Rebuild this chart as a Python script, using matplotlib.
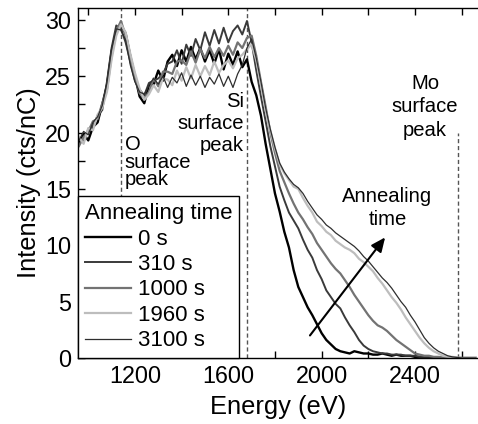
import matplotlib
matplotlib.use("Agg")
import matplotlib.pyplot as plt
from matplotlib.ticker import MultipleLocator

plt.rcParams['font.family'] = ['Liberation Sans', 'DejaVu Sans']

energy = list(range(960, 2661, 20))

int_0s = [19.0, 19.9, 19.3, 20.5, 20.9, 22.5, 24.2, 27.2, 29.0, 29.5, 28.8, 26.8, 25.0, 23.2, 22.6, 24.2,
          24.3, 25.5, 24.6, 26.3, 26.9, 25.9, 27.3, 26.3, 27.6, 26.5, 27.5, 26.3, 27.3, 26.1, 27.4, 25.6,
          27.0, 26.0, 27.2, 25.8, 26.5, 24.5, 23.3, 21.5, 19.0, 16.8, 14.6, 13.0, 11.2, 9.8, 7.8, 6.3,
          5.4, 4.5, 3.8, 3.0, 2.2, 1.6, 1.2, 0.8, 0.6, 0.5, 0.4, 0.6, 0.5, 0.4, 0.4, 0.3, 0.3, 0.4,
          0.3, 0.2, 0.3, 0.2, 0.2, 0.2, 0.1, 0.1, 0.1, 0.05, 0.05, 0.0, 0.0, 0.0, 0.0, 0.0, 0.0, 0.0,
          0.0, 0.0]
int_310s = [19.5, 19.2, 20.3, 20.6, 21.5, 22.0, 24.5, 27.5, 29.5, 29.2, 28.0, 26.3, 24.6, 23.8, 23.3, 24.4,
            24.6, 24.8, 25.2, 26.1, 26.3, 27.3, 26.1, 27.8, 26.8, 28.3, 27.3, 28.9, 27.7, 29.1, 27.9, 29.3,
            28.0, 29.0, 29.5, 28.7, 29.9, 28.0, 25.5, 23.2, 21.0, 18.8, 17.0, 15.2, 14.0, 12.9, 12.2, 11.5,
            10.5, 9.6, 8.9, 7.8, 7.0, 6.0, 5.4, 4.8, 4.4, 3.6, 2.9, 2.3, 1.6, 1.1, 0.8, 0.6, 0.5, 0.4,
            0.4, 0.3, 0.3, 0.3, 0.2, 0.2, 0.2, 0.1, 0.1, 0.1, 0.05, 0.05, 0.0, 0.0, 0.0, 0.0, 0.0, 0.0,
            0.0, 0.0]
int_1000s = [18.8, 19.6, 20.1, 21.0, 21.2, 22.6, 23.8, 26.8, 29.0, 29.9, 28.6, 26.6, 24.9, 23.5, 23.0, 23.6,
             24.8, 24.1, 25.4, 25.4, 25.2, 26.3, 26.4, 26.0, 27.2, 26.2, 27.4, 26.6, 27.6, 26.7, 27.5, 26.8,
             27.7, 26.9, 28.0, 27.5, 28.4, 28.6, 26.8, 24.5, 22.3, 20.0, 18.2, 16.6, 15.6, 14.6, 13.7, 12.9,
             12.3, 11.6, 11.0, 10.2, 9.6, 9.0, 8.4, 7.9, 7.5, 6.9, 6.3, 5.6, 5.0, 4.4, 3.8, 3.3, 2.9, 2.7,
             2.4, 2.0, 1.6, 1.3, 1.0, 0.7, 0.4, 0.3, 0.2, 0.2, 0.1, 0.1, 0.05, 0.05, 0.0, 0.0, 0.0, 0.0,
             0.0, 0.0]
int_1960s = [19.6, 19.0, 20.4, 20.2, 21.6, 22.2, 23.6, 26.5, 28.6, 29.6, 28.9, 27.0, 25.3, 23.9, 22.9, 23.4,
             24.2, 23.6, 24.8, 24.7, 24.2, 25.5, 24.6, 25.8, 24.8, 26.0, 25.0, 25.9, 25.1, 26.3, 25.3, 26.0,
             26.4, 25.7, 26.6, 26.9, 27.4, 27.8, 26.4, 24.2, 22.0, 20.2, 18.6, 17.2, 16.4, 15.8, 15.2, 15.0,
             14.2, 13.5, 12.9, 12.1, 11.7, 11.2, 10.9, 10.4, 10.1, 9.8, 9.6, 9.3, 8.8, 8.5, 8.1, 7.7, 7.1, 6.6,
             6.0, 5.4, 4.9, 4.3, 3.6, 3.0, 2.4, 1.8, 1.3, 0.9, 0.6, 0.4, 0.2, 0.1, 0.1, 0.05, 0.0, 0.0,
             0.0, 0.0]
int_3100s = [19.3, 20.1, 19.8, 20.9, 21.4, 22.4, 24.4, 27.4, 29.2, 29.1, 28.2, 26.0, 24.5, 23.6, 23.4, 24.2,
             24.8, 24.3, 25.0, 24.0, 24.9, 24.4, 25.3, 24.1, 25.1, 24.2, 25.0, 24.0, 24.9, 24.3, 25.2, 24.1,
             25.0, 24.0, 25.2, 26.0, 27.5, 28.3, 26.6, 24.5, 22.2, 20.3, 18.7, 17.3, 16.5, 15.9, 15.4, 15.1,
             14.6, 13.9, 13.3, 12.7, 12.3, 11.8, 11.5, 11.1, 10.8, 10.5, 10.2, 9.9, 9.5, 9.0, 8.6, 8.1, 7.6, 7.1,
             6.7, 6.2, 5.6, 5.0, 4.5, 3.8, 3.2, 2.5, 1.8, 1.3, 0.9, 0.6, 0.4, 0.2, 0.1, 0.05, 0.0, 0.0,
             0.0, 0.0]

series_labels = ["0 s", "310 s", "1000 s", "1960 s", "3100 s"]
series_values = [int_0s, int_310s, int_1000s, int_1960s, int_3100s]
series_colors = ["#000000", "#3a3a3a", "#737373", "#bdbdbd", "#2e2e2e"]
series_widths = [1.7, 1.4, 1.6, 1.6, 0.9]

peak_positions = [1140, 1680, 2584]
xtick_values = [1200, 1600, 2000, 2400]
ytick_values = [0, 5, 10, 15, 20, 25, 30]

fig = plt.figure(figsize=(4.78, 4.24), dpi=100)
ax = fig.add_axes([78/478, 1 - 358/424, 400/478, 350/424])

for lab, vals, col, lw in zip(series_labels, series_values, series_colors, series_widths):
    ax.plot(energy, vals, color=col, lw=lw, label=lab)

dash = dict(color="#555555", lw=1.0, linestyle=(0, (3, 2)), zorder=1)
ax.axvline(peak_positions[0], **dash)
ax.axvline(peak_positions[1], **dash)
ax.plot([peak_positions[2], peak_positions[2]], [0, 20.0], **dash)

ax.set_xlim(956, 2670)
ax.set_ylim(0, 31.05)
ax.set_xticks(xtick_values)
ax.xaxis.set_minor_locator(MultipleLocator(200))
ax.set_yticks(ytick_values)
ax.yaxis.set_minor_locator(MultipleLocator(2.5))
ax.tick_params(which='both', direction='in', top=True, right=False, length=5, width=1,
               labelsize=16.8, pad=5)
ax.spines['right'].set_visible(False)
for s in ['left', 'top', 'bottom']:
    ax.spines[s].set_linewidth(1.0)

ax.set_xlabel("Energy (eV)", fontsize=18.4, labelpad=5)
ax.set_ylabel("Intensity (cts/nC)", fontsize=18.4, labelpad=3)

ax.text(1157, 19.8, "O\nsurface\npeak", fontsize=14.6, ha='left', va='top', linespacing=0.92)
ax.text(1666, 23.6, "Si\nsurface\npeak", fontsize=14.6, ha='right', va='top', multialignment='right',
        linespacing=1.2)
ax.text(2443, 25.2, "Mo\nsurface\npeak", fontsize=14.6, ha='center', va='top', multialignment='center',
        linespacing=1.3)
ax.text(2282, 15.2, "Annealing\ntime", fontsize=14.6, ha='center', va='top', multialignment='center',
        linespacing=1.3)
ax.annotate("", xy=(2272, 10.7), xytext=(1950, 2.0),
            arrowprops=dict(arrowstyle="-|>,head_length=0.85,head_width=0.38", color="black", lw=1.5,
                            shrinkA=0, shrinkB=0))

leg = ax.legend(title="Annealing time", loc="lower left", bbox_to_anchor=(0, 0), borderaxespad=0,
                fontsize=16, title_fontsize=16, fancybox=False, framealpha=1, edgecolor="black",
                handlelength=2.1, labelspacing=0.2, handletextpad=0.3, borderpad=0.3,
                alignment='left')
leg.get_frame().set_linewidth(1.0)
leg.set_zorder(5)

fig.savefig("out.png", dpi=100)
